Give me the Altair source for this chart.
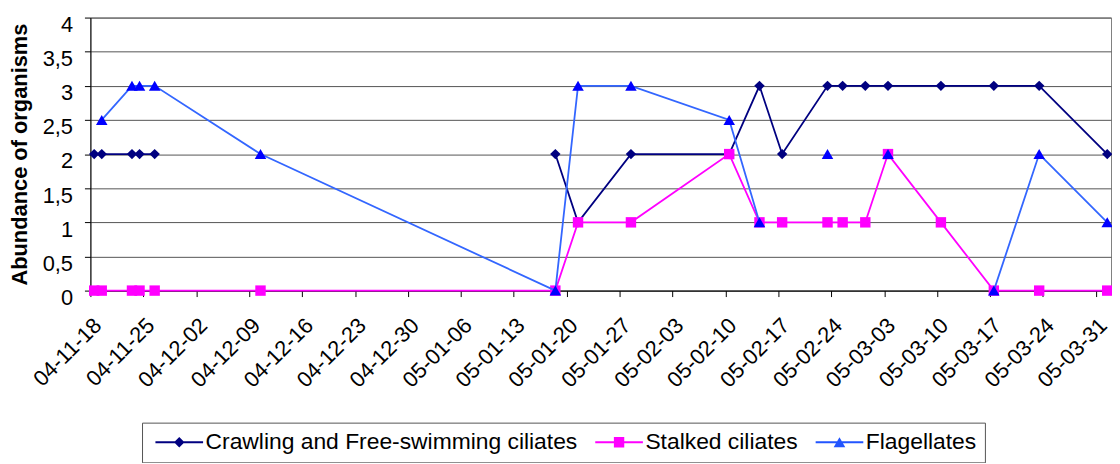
import altair as alt
import pandas as pd

# ---- data ----
dates = ["2004-11-18", "2004-11-19", "2004-11-23", "2004-11-24", "2004-11-26",
         "2004-12-10", "2005-01-18", "2005-01-21", "2005-01-28", "2005-02-10",
         "2005-02-14", "2005-02-17", "2005-02-23", "2005-02-25", "2005-02-28",
         "2005-03-03", "2005-03-10", "2005-03-17", "2005-03-23", "2005-04-01"]
crawling = [2, 2, 2, 2, 2, None, 2, 1, 2, 2, 3, 2, 3, 3, 3, 3, 3, 3, 3, 2]
stalked = [0, 0, 0, 0, 0, 0, 0, 1, 1, 2, 1, 1, 1, 1, 1, 2, 1, 0, 0, 0]
flagellates = [None, 2.5, 3, 3, 3, 2, 0, 3, 3, 2.5, 1, None, 2, None, None, 2, None, 0, 2, 1]

series_names = ["Crawling and Free-swimming ciliates", "Stalked ciliates", "Flagellates"]
x_tick_dates = ["2004-11-18", "2004-11-25", "2004-12-02", "2004-12-09", "2004-12-16",
                "2004-12-23", "2004-12-30", "2005-01-06", "2005-01-13", "2005-01-20",
                "2005-01-27", "2005-02-03", "2005-02-10", "2005-02-17", "2005-02-24",
                "2005-03-03", "2005-03-10", "2005-03-17", "2005-03-24", "2005-03-31"]
y_ticks = [0, 0.5, 1, 1.5, 2, 2.5, 3, 3.5, 4]
x_domain = ["2004-11-18", "2005-04-02"]

# ---- styles ----
line_colors = ["#000080", "#FF00FF", "#3366FF"]
marker_colors = ["#000080", "#FF00FF", "#0000FF"]
legend_colors = ["#000080", "#FF00FF", "#2255FF"]
marker_shapes = ["diamond", "square", "triangle-up"]
marker_sizes = [110, 110, 135]
line_part = "M-1,-0.16H7V0.16H-1Z "
legend_paths = [
    line_part + "M3,-0.88L3.88,0L3,0.88L2.12,0Z",
    line_part + "M2.13,-0.87H3.87V0.87H2.13Z",
    line_part + "M3,-0.84L3.975,0.84L2.025,0.84Z",
]
FONT = "Liberation Sans"

# ---- table ----
rows = []
for name, vals in zip(series_names, [crawling, stalked, flagellates]):
    seg = 0
    for d, v in zip(dates, vals):
        if v is None:
            seg += 1
            continue
        rows.append({"date": pd.Timestamp(d), "value": v, "series": name,
                     "seg": f"{name}-{seg}"})
df = pd.DataFrame(rows)


def to_dt(s):
    t = pd.Timestamp(s)
    return alt.DateTime(year=t.year, month=t.month, date=t.day)


x_enc = alt.X(
    "date:T", timeUnit="yearmonthdate", bandPosition=0.5, title=None,
    scale=alt.Scale(domain=[to_dt(x_domain[0]), to_dt(x_domain[1])], nice=False),
    axis=alt.Axis(values=[to_dt(t) for t in x_tick_dates], format="%y-%m-%d",
                  labelAngle=-45, labelAlign="right", labelBaseline="top",
                  labelFontSize=22, labelFont=FONT, labelColor="black",
                  tickSize=6, tickColor="black", domainColor="black", grid=False,
                  labelPadding=18, labelOverlap=False),
)
y_enc = alt.Y(
    "value:Q", scale=alt.Scale(domain=[0, 4], nice=False),
    axis=alt.Axis(values=y_ticks, labelExpr="replace(format(datum.value, '~g'), '.', ',')",
                  title="Abundance of organisms", titleFontSize=22, titleFont=FONT,
                  titleFontWeight="bold", titleColor="black", titlePadding=11,
                  labelFontSize=22, labelFont=FONT, labelColor="black", labelPadding=12,
                  labelOffset=7,
                  tickSize=6, tickColor="black", domainColor="black",
                  grid=True, gridColor="#555555", gridWidth=1),
)

base = alt.Chart(df)
layers = []
for name, lc, mc, shp, sz in zip(series_names, line_colors, marker_colors, marker_shapes, marker_sizes):
    sub = base.transform_filter(alt.datum.series == name)
    layers.append(sub.mark_line(color=lc, strokeWidth=1.8).encode(x=x_enc, y=y_enc, detail="seg:N"))
    layers.append(sub.mark_point(filled=True, shape=shp, size=sz, color=mc, opacity=1,
                                 strokeWidth=0).encode(x=x_enc, y=y_enc))

leg = alt.Legend(orient="none", legendX=52, legendY=408, direction="horizontal", title=None,
                 padding=8, strokeColor="#555555", fillColor="white",
                 labelFontSize=23, labelFont=FONT, labelColor="black", labelLimit=0,
                 symbolSize=144, symbolStrokeWidth=0, symbolOpacity=1,
                 labelOffset=33, columnPadding=12)
legend_layer = base.mark_point(filled=True, opacity=0).encode(
    x=x_enc, y=y_enc,
    color=alt.Color("series:N", scale=alt.Scale(domain=series_names, range=legend_colors), legend=leg),
    shape=alt.Shape("series:N", scale=alt.Scale(domain=series_names, range=legend_paths), legend=leg),
)
layers.append(legend_layer)

chart = alt.layer(*layers).properties(
    width=1028, height=275,
    autosize=alt.AutoSizeParams(type="none"),
    padding={"left": 83, "top": 8, "right": 1, "bottom": 172},
).configure(font=FONT).configure_view(stroke="#808080")

chart.save("out.html", embed_options={"renderer": "svg", "actions": False})
